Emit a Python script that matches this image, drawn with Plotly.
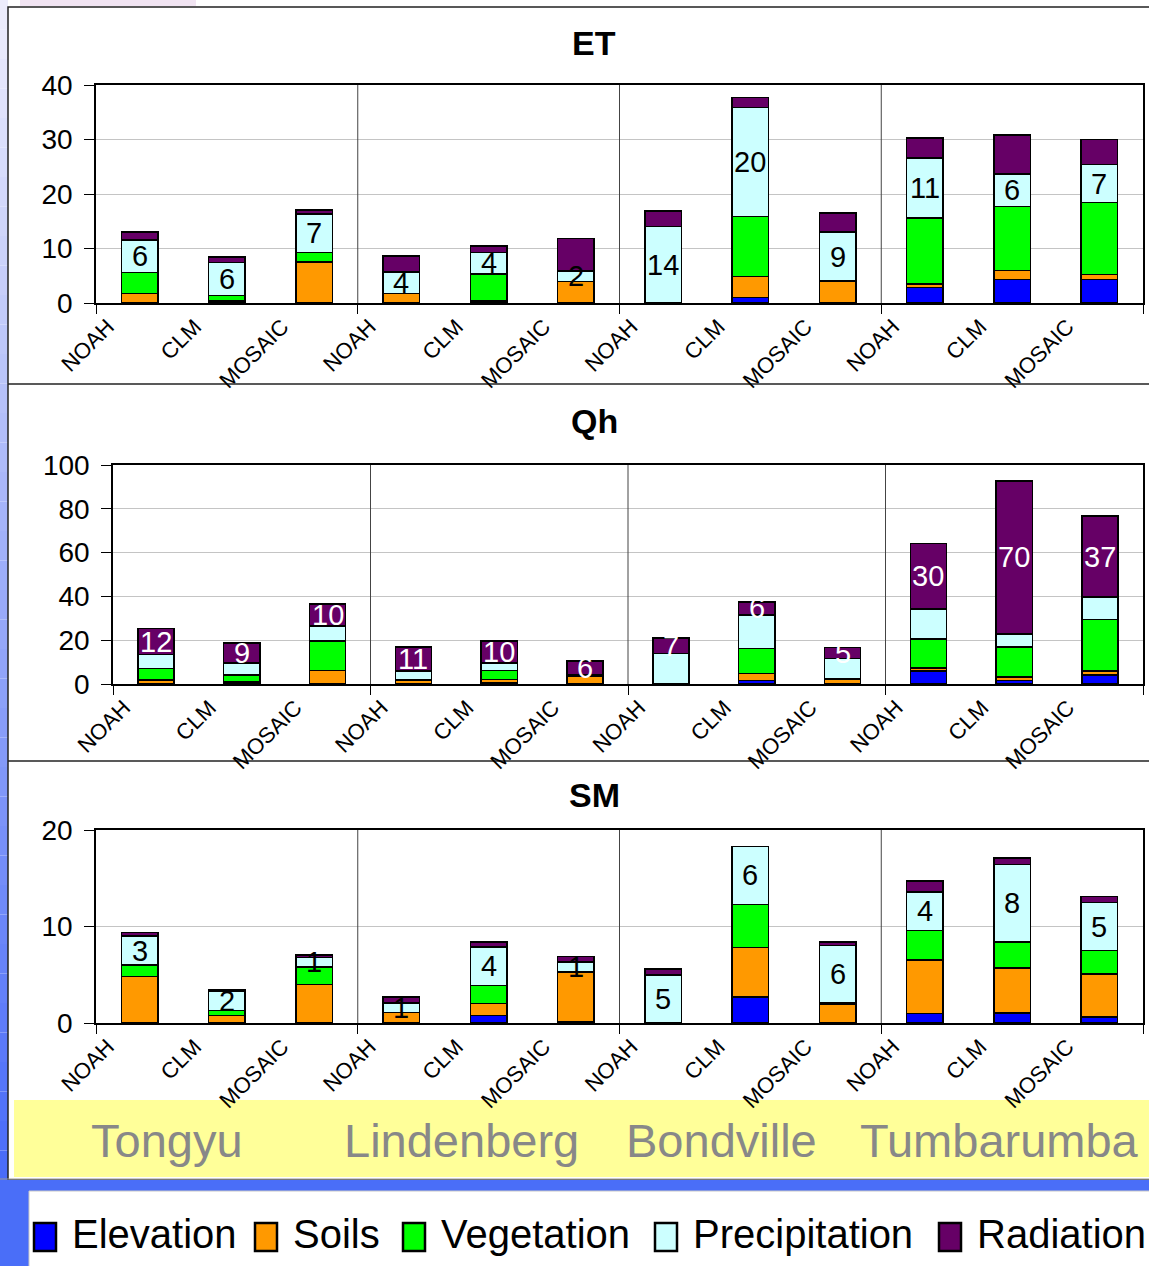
import plotly.graph_objects as go

W, H = 1149, 1266

# ---------------- data ----------------
sites = ["Tongyu", "Lindenberg", "Bondville", "Tumbarumba"]
models = ["NOAH", "CLM", "MOSAIC"]
factors = ["Elevation", "Soils", "Vegetation", "Precipitation", "Radiation"]
factor_colors = ["#0000ff", "#ff9900", "#00ff00", "#ccffff", "#660066"]

# ET contributions, bars ordered site by site (NOAH, CLM, MOSAIC)
et_elevation = [0, 0, 0, 0, 0, 0, 0, 1.0, 0, 2.8, 4.3, 4.3]
et_soils = [1.7, 0.4, 7.5, 1.7, 0.4, 3.9, 0, 3.9, 4.0, 0.7, 1.7, 0.9]
et_vegetation = [3.9, 1.0, 1.8, 0, 4.9, 0, 0, 11.0, 0, 12.1, 11.7, 13.2]
et_precipitation = [6, 6, 7, 4, 4, 2, 14, 20, 9, 11, 6, 7]
et_radiation = [1.4, 1.0, 0.8, 2.9, 1.2, 5.9, 2.9, 1.8, 3.5, 3.7, 7.1, 4.6]

# Qh contributions
qh_elevation = [0, 0, 0, 0, 0.5, 0, 0, 1.7, 0, 5.9, 1.5, 4.1]
qh_soils = [1.8, 1.0, 6.1, 1.5, 1.5, 3.6, 0, 3.2, 2.3, 1.3, 1.8, 1.8]
qh_vegetation = [5.2, 3.1, 13.5, 0.5, 4.1, 0, 0, 11.4, 0, 13.3, 13.7, 23.6]
qh_precipitation = [6.4, 5.6, 6.9, 4.0, 3.6, 0.8, 14.0, 15.2, 9.3, 13.7, 5.8, 10.2]
qh_radiation = [12, 9, 10, 11, 10, 6, 7, 6, 5, 30, 70, 37]

# SM contributions
sm_elevation = [0, 0, 0, 0, 0.8, 0.15, 0, 2.7, 0, 1.0, 1.05, 0.6]
sm_soils = [4.8, 0.8, 4.0, 1.07, 1.2, 5.15, 0, 5.1, 1.9, 5.55, 4.65, 4.5]
sm_vegetation = [1.2, 0.5, 1.8, 0, 1.9, 0, 0, 4.5, 0.15, 3.05, 2.7, 2.4]
sm_precipitation = [3, 2, 1, 1, 4, 1, 5, 6, 6, 4, 8, 5]
sm_radiation = [0.4, 0.15, 0.25, 0.6, 0.5, 0.6, 0.6, 0, 0.35, 1.1, 0.7, 0.6]

# ---------------- helpers ----------------
def fx(px):
    return px / W


def fy(py):
    return 1 - py / H


FONT = "Liberation Sans, Arial, sans-serif"

panels = [
    # name, series, label factor index, label colour, ymax, dtick, plot box (x0, x1, ytop, ybottom)
    dict(name="ET", series=[et_elevation, et_soils, et_vegetation, et_precipitation, et_radiation],
         label_idx=3, label_color="black", ymax=40, dtick=10, box=(96, 1143, 85, 303), title_y=43),
    dict(name="Qh", series=[qh_elevation, qh_soils, qh_vegetation, qh_precipitation, qh_radiation],
         label_idx=4, label_color="white", ymax=100, dtick=20, box=(113, 1143, 465, 684), title_y=421),
    dict(name="SM", series=[sm_elevation, sm_soils, sm_vegetation, sm_precipitation, sm_radiation],
         label_idx=3, label_color="black", ymax=20, dtick=10, box=(96, 1143, 830, 1023), title_y=795),
]

n_bars = len(sites) * len(models)
xpos = list(range(n_bars))
ticktext = models * len(sites)
site_edges = [i * len(models) - 0.5 for i in range(len(sites) + 1)]

fig = go.Figure()
layout = dict(
    width=W, height=H, autosize=False,
    margin=dict(l=0, r=0, t=0, b=0, pad=0, autoexpand=False),
    paper_bgcolor="white", plot_bgcolor="rgba(0,0,0,0)",
    barmode="stack", bargap=0.58, showlegend=False,
    font=dict(family=FONT, color="black"),
)
shapes = []
annotations = []

for k, p in enumerate(panels):
    sfx = "" if k == 0 else str(k + 1)
    xa, ya = "x" + sfx, "y" + sfx
    for name, vals, col in zip(factors, p["series"], factor_colors):
        fig.add_trace(go.Bar(
            x=xpos, y=vals, name=name, xaxis=xa, yaxis=ya,
            marker=dict(color=col, line=dict(color="black", width=1.5)),
            hoverinfo="skip",
        ))
    x0, x1, yt, yb = p["box"]
    layout["xaxis" + sfx] = dict(
        domain=[fx(x0), fx(x1)], anchor=ya, range=[-0.5, n_bars - 0.5],
        automargin=False,
        tickmode="array", tickvals=xpos, ticktext=ticktext, tickangle=-45,
        ticks="", showgrid=False, zeroline=False,
        showline=True, linecolor="black", linewidth=2, mirror=True,
        minor=dict(tickmode="array", tickvals=site_edges, ticks="outside",
                   ticklen=9, tickwidth=1, tickcolor="black", showgrid=False),
        ticklabelshift=-32, ticklabelstandoff=0,
        tickfont=dict(family=FONT, size=22, color="black"),
        fixedrange=True,
    )
    layout["yaxis" + sfx] = dict(
        domain=[fy(yb), fy(yt)], anchor=xa, range=[0, p["ymax"]],
        automargin=False,
        tickmode="linear", tick0=0, dtick=p["dtick"],
        ticks="outside", ticklen=10, tickwidth=1, tickcolor="black",
        showline=True, linecolor="black", linewidth=1.5, mirror=True,
        showgrid=True, gridcolor="#c4c4c4", gridwidth=1, zeroline=False,
        ticklabelstandoff=6,
        tickfont=dict(family=FONT, size=28, color="black"),
        fixedrange=True,
    )
    # vertical separators between sites
    for e in site_edges[1:-1]:
        shapes.append(dict(type="line", xref=xa, yref=ya + " domain", x0=e, x1=e, y0=0, y1=1,
                           line=dict(color="#444444", width=1), layer="above"))
    # panel title
    annotations.append(dict(text="<b>%s</b>" % p["name"], x=fx(594), y=fy(p["title_y"]),
                            xref="paper", yref="paper", xanchor="center", yanchor="middle",
                            showarrow=False, font=dict(family=FONT, size=34, color="black")))
    # value labels centred in the labelled segment
    li = p["label_idx"]
    for i in xpos:
        base = sum(p["series"][j][i] for j in range(li))
        v = p["series"][li][i]
        annotations.append(dict(text="%g" % v, x=i, y=base + v / 2, xref=xa, yref=ya,
                                xanchor="center", yanchor="middle", showarrow=False,
                                font=dict(family=FONT, size=29, color=p["label_color"])))

# ---------------- page decoration ----------------
# faint remnant of a header graphic above the frame
shapes.append(dict(type="rect", xref="paper", yref="paper", layer="below",
                   x0=fx(20), x1=fx(196), y0=fy(6), y1=1,
                   fillcolor="#f1e4f2", line=dict(width=0)))
# left gradient strip
n_band = 40
c_top = (236, 236, 251)
c_bot = (74, 108, 248)
for b in range(n_band):
    t = b / (n_band - 1)
    c = tuple(int(round(c_top[i] + (c_bot[i] - c_top[i]) * t)) for i in range(3))
    shapes.append(dict(type="rect", xref="paper", yref="paper", layer="below",
                       x0=0, x1=fx(8), y0=fy(1180 * (b + 1) / n_band), y1=fy(1180 * b / n_band),
                       fillcolor="rgb(%d,%d,%d)" % c, line=dict(width=0)))
# outer frame
shapes.append(dict(type="rect", xref="paper", yref="paper", layer="below",
                   x0=fx(8), x1=fx(1152), y0=fy(1180), y1=fy(7),
                   fillcolor="white", line=dict(color="#222222", width=1.5)))
# panel dividers
for yy in (384, 761):
    shapes.append(dict(type="line", xref="paper", yref="paper", layer="below",
                       x0=fx(8), x1=1, y0=fy(yy), y1=fy(yy), line=dict(color="#222222", width=1.5)))
# site-name band
shapes.append(dict(type="rect", xref="paper", yref="paper", layer="below",
                   x0=fx(14), x1=1, y0=fy(1177), y1=fy(1100),
                   fillcolor="#ffff99", line=dict(width=0)))
# blue band and lower blue margin
shapes.append(dict(type="rect", xref="paper", yref="paper", layer="below",
                   x0=0, x1=1, y0=0, y1=fy(1180),
                   fillcolor="#4a6ef8", line=dict(width=0)))
shapes.append(dict(type="line", xref="paper", yref="paper", layer="below",
                   x0=0, x1=1, y0=fy(1179), y1=fy(1179), line=dict(color="#9a9a9a", width=1)))
# legend box
shapes.append(dict(type="rect", xref="paper", yref="paper", layer="below",
                   x0=fx(29), x1=1.01, y0=-0.01, y1=fy(1191),
                   fillcolor="white", line=dict(color="#c8c8c8", width=1)))

site_centers = [167, 461, 721, 999]
for s, cx in zip(sites, site_centers):
    annotations.append(dict(text=s, x=fx(cx), y=fy(1140), xref="paper", yref="paper",
                            xanchor="center", yanchor="middle", showarrow=False,
                            font=dict(family=FONT, size=47, color="#888888")))

legend_sq = [34, 255, 403, 655, 939]
for name, col, sx in zip(factors, factor_colors, legend_sq):
    shapes.append(dict(type="rect", xref="paper", yref="paper",
                       x0=fx(sx), x1=fx(sx + 22), y0=fy(1251), y1=fy(1223),
                       fillcolor=col, line=dict(color="black", width=2.5)))
    annotations.append(dict(text=name, x=fx(sx + 36), y=fy(1234), xref="paper", yref="paper",
                            xanchor="left", yanchor="middle", showarrow=False,
                            font=dict(family=FONT, size=40, color="black")))

layout["shapes"] = shapes
layout["annotations"] = annotations
fig.update_layout(**layout)
fig.write_html("out.html")
